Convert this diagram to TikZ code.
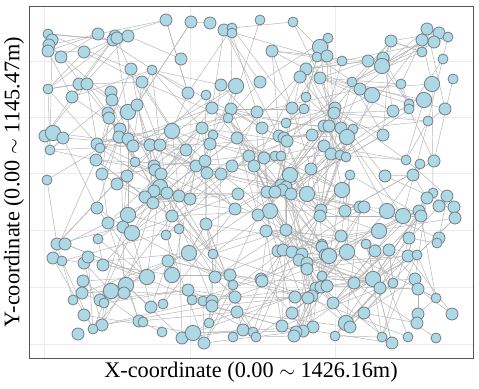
\documentclass[tikz,border=0pt]{standalone}
\usepackage{fontspec}
\setmainfont{Liberation Serif}
\usepackage{xcolor}
\usepackage{tikz}
\usetikzlibrary{backgrounds}

\definecolor{dotfill}{RGB}{173,216,230}
\definecolor{dotline}{RGB}{118,128,134}
\definecolor{linkgray}{RGB}{180,180,180}
\definecolor{gridgray}{RGB}{236,236,236}
\definecolor{framegray}{RGB}{85,85,85}

\begin{document}
\begin{tikzpicture}[x=0.03cm, y=-0.03cm,
    dots/.style={circle, draw=dotline, fill=dotfill, line width=0.7pt, inner sep=0pt, minimum size=0.30cm},
    dotm/.style={dots, minimum size=0.36cm},
    dotl/.style={dots, minimum size=0.46cm},
    link/.style={draw=linkgray, line width=0.4pt},
    grid line/.style={draw=gridgray, line width=0.6pt},
    axislabel/.style={font=\fontsize{19}{22}\selectfont, inner sep=0pt}
]
\useasboundingbox (0,0) rectangle (479,388);

% Sensor nodes
\foreach \x/\y/\r [count=\i] in {
    48/34/s, 52/40/m, 49/45/m, 48/51/m, 61/57/m, 84/52/m, 98/34/m, 115/36/m,
    113/40/m, 117/38/m, 128/36/m, 131/69/m, 79/84/m, 87/84/m, 48/89/s, 72/97/m,
    111/92/m, 112/100/m, 108/113/m, 109/118/m, 128/112/l, 137/105/m, 166/20/m, 191/22/m,
    210/23/m, 224/30/m, 232/28/s, 232/33/s, 181/59/m, 152/70/s, 142/82/m, 188/93/m,
    206/95/s, 221/85/m, 236/86/l, 212/108/m, 231/109/m, 228/118/s, 260/20/s, 293/22/s,
    272/51/m, 328/38/s, 320/47/l, 317/57/s, 327/56/m, 342/61/s, 368/61/m, 306/69/m,
    300/77/m, 320/78/m, 260/82/m, 352/82/s, 360/89/m, 306/97/s, 292/108/m, 304/109/s,
    335/108/m, 334/113/m, 257/112/m, 286/123/s, 427/29/m, 439/33/m, 448/37/s, 422/40/m,
    434/42/m, 391/41/m, 422/52/s, 443/59/s, 383/58/m, 382/66/l, 453/79/s, 432/84/l,
    401/84/s, 372/95/l, 424/100/l, 409/104/s, 409/109/s, 445/109/m, 393/111/m, 428/121/s,
    45/136/m, 53/133/l, 63/138/m, 50/150/s, 47/180/s, 97/144/m, 100/148/s, 96/160/m,
    102/174/m, 117/184/m, 127/176/m, 120/129/m, 119/137/m, 128/139/m, 133/146/m, 135/162/s,
    97/208/m, 128/215/l, 108/223/m, 123/227/m, 132/233/l, 98/239/s, 172/131/l, 202/128/m,
    213/135/s, 210/144/m, 237/138/m, 150/145/m, 160/145/m, 186/150/m, 249/156/m, 196/166/m,
    205/161/m, 207/173/m, 221/174/m, 232/166/m, 154/166/m, 155/170/m, 161/174/m, 160/187/l,
    154/191/m, 167/193/m, 179/196/m, 190/199/m, 145/197/m, 153/203/m, 238/194/m, 235/209/m,
    172/216/m, 179/229/s, 206/224/m, 166/235/s, 262/128/m, 279/136/m, 284/138/m, 287/141/m,
    312/135/m, 324/126/m, 329/126/m, 341/128/m, 353/129/s, 347/137/l, 324/146/m, 331/154/m,
    340/155/s, 346/157/s, 264/158/m, 275/156/s, 281/156/s, 254/166/m, 311/169/m, 290/175/l,
    350/175/s, 342/190/l, 281/185/m, 286/187/m, 282/190/m, 267/192/m, 275/192/m, 291/194/m,
    307/194/l, 270/211/l, 258/215/m, 321/210/m, 320/216/m, 345/211/m, 360/207/m, 364/207/m,
    266/231/m, 286/230/m, 341/236/m, 383/135/m, 406/160/s, 420/164/s, 434/161/m, 385/176/m,
    413/175/m, 433/193/s, 427/198/m, 447/196/m, 387/211/l, 403/216/l, 419/211/m, 421/216/m,
    439/206/m, 454/207/m, 455/218/m, 379/231/l, 409/238/m, 439/238/m, 437/243/s,
    57/244/m, 65/244/m, 53/258/m, 62/261/s, 84/263/m, 88/257/m, 103/265/m, 189/253/l,
    213/254/s, 168/261/m, 147/277/l, 172/275/l, 83/281/m, 82/293/m, 73/300/s, 100/300/m,
    104/303/s, 111/291/l, 126/285/l, 124/293/m, 151/307/m, 163/304/s, 188/290/m, 192/300/s,
    203/301/s, 212/301/m, 212/306/m, 215/277/m, 230/275/m, 233/285/s, 235/297/m, 237/312/m,
    84/315/m, 102/325/m, 93/329/s, 139/321/m, 143/322/s, 78/334/m, 162/332/s, 182/338/m,
    193/333/l, 204/343/m, 209/323/s, 233/337/s, 278/251/m, 283/250/m, 292/252/m, 302/254/m,
    299/260/m, 307/263/m, 307/269/m, 322/244/s, 322/247/m, 325/255/m, 329/256/l, 347/252/l,
    366/244/s, 375/251/m, 389/250/m, 408/256/m, 417/255/s, 261/279/m, 262/281/m, 322/276/s,
    316/288/m, 321/287/m, 327/286/m, 312/296/m, 308/298/m, 295/297/m, 333/303/m, 354/283/m,
    373/279/l, 380/288/m, 393/283/s, 415/279/m, 418/289/m, 436/298/s, 452/314/m, 418/314/m,
    417/323/m, 292/313/m, 364/313/m, 346/323/l, 350/327/m, 313/327/m, 303/331/m, 296/332/m,
    294/336/m, 282/326/m, 335/336/s, 382/337/s, 392/343/m, 408/337/s, 436/338/s, 243/330/m,
    253/332/s, 256/337/s}
{
    \node[dot\r] (n\i) at (\x,\y) {};
    \expandafter\xdef\csname px\i\endcsname{\x}
    \expandafter\xdef\csname py\i\endcsname{\y}
    \xdef\nodecount{\i}
}

\begin{pgfonlayer}{background}
% Panel and grid
\fill[white] (0,0) rectangle (479,388);
\foreach \gx in {44,190,335}
    \draw[grid line] (\gx,6) -- (\gx,358);
\foreach \gy in {61,117,173,230,287,344}
    \draw[grid line] (29,\gy) -- (473,\gy);

% Links between sensors (random, shorter ones more likely)
\pgfmathsetseed{4711}
\foreach \i in {1,...,\nodecount}
    \foreach \k in {1,...,22} {
        \pgfmathtruncatemacro{\j}{random(1,\nodecount)}
        \edef\xa{\csname px\i\endcsname}\edef\ya{\csname py\i\endcsname}
        \edef\xb{\csname px\j\endcsname}\edef\yb{\csname py\j\endcsname}
        \pgfmathsetmacro{\dist}{veclen(\xa-\xb,\ya-\yb)}
        \pgfmathsetmacro{\reach}{135*rnd}
        \ifnum\i=\j\else
            \ifdim\dist pt<\reach pt \draw[link] (n\i) -- (n\j); \fi
        \fi
    }
\end{pgfonlayer}

% Frame
\draw[framegray, line width=0.8pt] (29,6) rectangle (473,358);

% Axis labels
\node[axislabel] (xlab) at (251,372) {X-coordinate (0.00 $\sim$ 1426.16m)};
\node[axislabel, rotate=90] (ylab) at (14,182) {Y-coordinate (0.00 $\sim$ 1145.47m)};

\end{tikzpicture}
\end{document}
